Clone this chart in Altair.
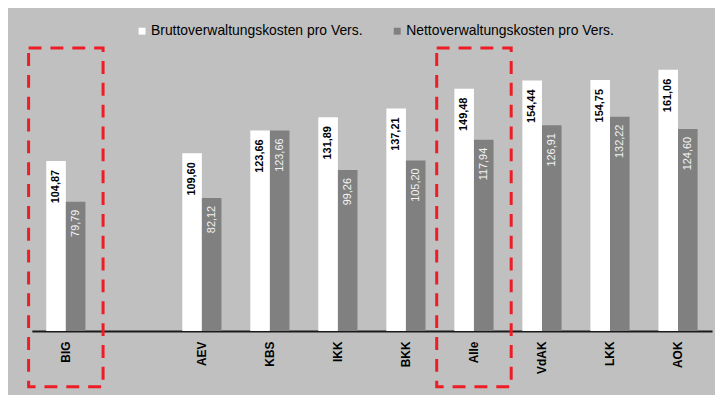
import altair as alt
import pandas as pd

# ---- data ----
categories = ["BIG", "AEV", "KBS", "IKK", "BKK", "Alle", "VdAK", "LKK", "AOK"]
slots = ["BIG", " ", "AEV", "KBS", "IKK", "BKK", "Alle", "VdAK", "LKK", "AOK"]
series_names = ["Bruttoverwaltungskosten pro Vers.", "Nettoverwaltungskosten pro Vers."]
brutto = [104.87, 109.60, 123.66, 131.89, 137.21, 149.48, 154.44, 154.75, 161.06]
netto = [79.79, 82.12, 123.66, 99.26, 105.20, 117.94, 126.91, 132.22, 124.60]
highlighted = ["BIG", "Alle"]

rows = []
for c, b, n in zip(categories, brutto, netto):
    for s, v in zip(series_names, (b, n)):
        rows.append({"kasse": c, "serie": s, "wert": v,
                     "label": f"{v:.2f}".replace(".", ",")})
df = pd.DataFrame(rows)
box_df = pd.DataFrame({"kasse": highlighted})

FONT = "Liberation Sans"

xscale = alt.Scale(domain=slots, paddingInner=0.424, paddingOuter=0.212)
x = alt.X(
    "kasse:N",
    scale=xscale,
    axis=alt.Axis(
        title=None, labelAngle=-90, ticks=False, labelPadding=10,
        labelFont=FONT, labelFontSize=12, labelFontWeight="bold",
        labelColor="black", domainColor="#1a1a1a", domainWidth=2,
        grid=False, labelAlign="right", labelBaseline="middle",
    ),
)
xoff = alt.XOffset("serie:N", scale=alt.Scale(domain=series_names))
y = alt.Y("wert:Q", scale=alt.Scale(domain=[0, 180]), axis=None)

bars = alt.Chart(df).mark_bar().encode(
    x=x,
    xOffset=xoff,
    y=y,
    color=alt.Color(
        "serie:N",
        scale=alt.Scale(domain=series_names, range=["#ffffff", "#808080"]),
        legend=alt.Legend(
            title=None, orient="none", legendX=104, legendY=-15,
            direction="horizontal", symbolType="square", symbolSize=49,
            symbolStrokeWidth=0, labelFont=FONT, labelFontSize=14,
            labelColor="black", columnPadding=27, labelLimit=400,
            labelOffset=2, padding=0,
        ),
    ),
)

lbl_b = alt.Chart(df).transform_filter(
    alt.datum.serie == series_names[0]
).mark_text(
    angle=270, align="right", baseline="middle", yOffset=9,
    font=FONT, fontSize=11, fontWeight="bold", color="black",
).encode(x=x, xOffset=xoff, y=y, text="label:N")

lbl_n = alt.Chart(df).transform_filter(
    alt.datum.serie == series_names[1]
).mark_text(
    angle=270, align="right", baseline="middle", yOffset=8,
    font=FONT, fontSize=11, color="#f4f4f4",
).encode(x=x, xOffset=xoff, y=y, text="label:N")

boxes = alt.Chart(box_df).mark_bar(
    width=75, fillOpacity=0, stroke="#ee1c25", strokeWidth=3,
    strokeDash=[13, 9],
).encode(x=x, y=alt.value(9), y2=alt.value(350))

chart = alt.layer(bars, lbl_b, lbl_n, boxes).properties(
    width=685,
    height=294,
    padding={"left": 24, "top": 30, "right": 3, "bottom": 63},
    autosize=alt.AutoSizeParams(type="none"),
    background="#c0c0c0",
).configure_view(strokeWidth=0)

chart.save("out.html", embed_options={"renderer": "svg", "actions": False})
